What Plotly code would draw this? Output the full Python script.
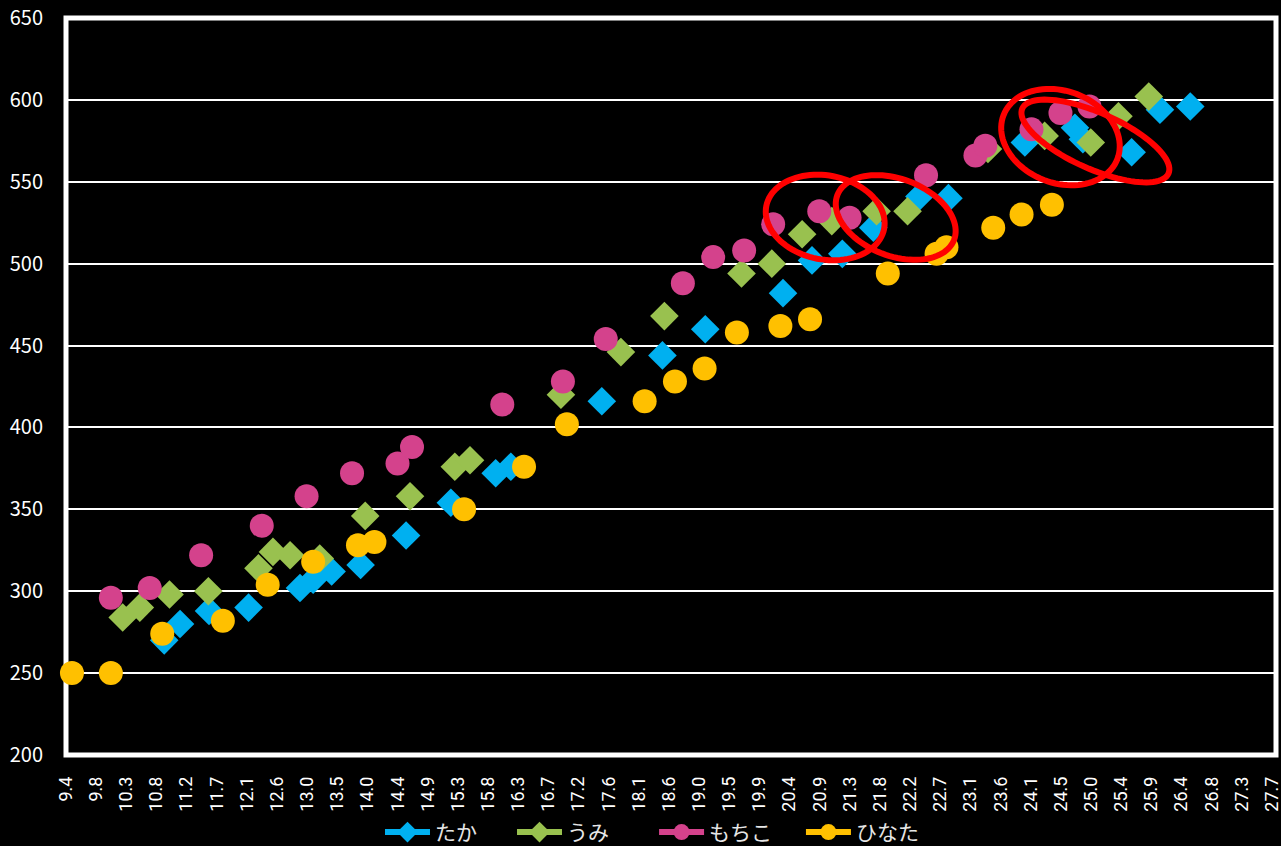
import numpy as np
import plotly.graph_objects as go

# --- series data -----------------------------------------------------------
taka_x = [10.89, 11.13, 11.57, 12.17, 12.95, 13.15, 13.43, 13.87, 14.56, 15.24,
          15.92, 16.15, 17.53, 18.45, 19.10, 20.28, 20.72, 21.18, 21.65, 22.35,
          22.79, 23.95, 24.71, 24.83, 25.57, 26.00, 26.46]
taka_y = [270, 280, 288, 290, 302, 307, 312, 316, 334, 354,
          372, 376, 416, 444, 460, 482, 502, 506, 522, 541,
          540, 574, 583, 576, 568, 594, 596]

umi_x = [10.26, 10.52, 10.97, 11.56, 12.32, 12.54, 12.80, 13.25, 13.94, 14.62,
         15.30, 15.53, 16.91, 17.82, 18.48, 19.65, 20.11, 20.57, 21.02, 21.70,
         22.17, 23.39, 24.25, 24.95, 25.37, 25.83]
umi_y = [284, 290, 298, 300, 314, 324, 322, 320, 346, 358,
         376, 380, 420, 446, 468, 494, 500, 518, 526, 532,
         532, 570, 578, 574, 590, 602]

mochiko_x = [10.08, 10.67, 11.45, 12.37, 13.05, 13.74, 14.43, 14.65, 16.02, 16.94,
             17.59, 18.76, 19.22, 19.69, 20.13, 20.83, 21.29, 22.45, 23.20, 23.35,
             24.05, 24.49, 24.93]
mochiko_y = [296, 302, 322, 340, 358, 372, 378, 388, 414, 428,
             454, 488, 504, 508, 524, 532, 528, 554, 566, 572,
             582, 592, 596]

hinata_x = [9.49, 10.08, 10.86, 11.78, 12.46, 13.15, 13.83, 14.08, 15.44, 16.35,
            17.00, 18.18, 18.64, 19.09, 19.58, 20.24, 20.69, 21.87, 22.61, 22.76,
            23.47, 23.90, 24.36]
hinata_y = [250, 250, 274, 282, 304, 318, 328, 330, 350, 376,
            402, 416, 428, 436, 458, 462, 466, 494, 506, 510,
            522, 530, 536]

x_tick_labels = ["9.4", "9.8", "10.3", "10.8", "11.2", "11.7", "12.1", "12.6", "13.0",
                 "13.5", "14.0", "14.4", "14.9", "15.3", "15.8", "16.3", "16.7", "17.2",
                 "17.6", "18.1", "18.6", "19.0", "19.5", "19.9", "20.4", "20.9", "21.3",
                 "21.8", "22.2", "22.7", "23.1", "23.6", "24.1", "24.5", "25.0", "25.4",
                 "25.9", "26.4", "26.8", "27.3", "27.7"]

# --- layout constants --------------------------------------------------------
W, H = 1281, 846
M_L, M_R, M_T, M_B = 66, 5, 18, 91
X_FIRST, X_LAST = 9.4, 27.7          # first / last labelled tick
Y_MIN, Y_MAX = 200, 650
FONT = "Noto Sans CJK JP"
TICK_FONT = "Roboto"

plot_w = W - M_L - M_R
plot_h = H - M_T - M_B
# last tick sits a few pixels inside the right edge of the frame
px_per_x = (plot_w - 4) / (X_LAST - X_FIRST)
px_per_y = plot_h / (Y_MAX - Y_MIN)
X_MIN = X_FIRST
X_MAX = X_FIRST + plot_w / px_per_x

series = [
    ("たか", taka_x, taka_y, "#00B0F0", "diamond", 22),
    ("うみ", umi_x, umi_y, "#99C14F", "diamond", 22),
    ("もちこ", mochiko_x, mochiko_y, "#D4428C", "circle", 24),
    ("ひなた", hinata_x, hinata_y, "#FFC000", "circle", 24),
]

# left edge (in paper units) of each legend entry along the bottom
legend_slots = [0.2595, 0.3686, 0.486, 0.6074]
legend_ids = ["legend", "legend2", "legend3", "legend4"]

fig = go.Figure()
for name, xs, ys, color, symbol, size in series:
    fig.add_trace(go.Scatter(
        x=xs, y=ys, mode="markers", name=name, showlegend=False,
        cliponaxis=False,
        marker=dict(symbol=symbol, size=size, color=color, line=dict(width=0)),
    ))

# legend entries drawn as line + marker samples
for (name, xs, ys, color, symbol, size), lid in zip(series, legend_ids):
    fig.add_trace(go.Scatter(
        x=[None], y=[None], mode="lines+markers", name=name, legend=lid,
        line=dict(color=color, width=6),
        marker=dict(symbol=symbol, size=size, color=color),
    ))


def ellipse_path(cx, cy, a_px, b_px, angle_deg, n=96):
    """Rotated ellipse (sizes in screen pixels) expressed in data coordinates."""
    th = np.radians(angle_deg)
    t = np.linspace(0, 2 * np.pi, n, endpoint=False)
    dx = a_px * np.cos(t) * np.cos(th) - b_px * np.sin(t) * np.sin(th)
    dy = a_px * np.cos(t) * np.sin(th) + b_px * np.sin(t) * np.cos(th)
    xs = cx + dx / px_per_x
    ys = cy - dy / px_per_y
    pts = [f"{x:.4f},{y:.4f}" for x, y in zip(xs, ys)]
    return "M " + " L ".join(pts) + " Z"


highlight_rings = [
    (20.92, 528.2, 60, 42, 11),
    (21.99, 528.2, 62.5, 38.5, 21),
    (24.49, 577.3, 61, 46, 21),
    (25.02, 574.9, 80, 28, 24),
]

shapes = [
    # white frame around the plotting area
    dict(type="rect", xref="paper", yref="paper", x0=0, y0=0, x1=1, y1=1,
         line=dict(color="white", width=5), layer="below"),
]
for cx, cy, a, b, ang in highlight_rings:
    shapes.append(dict(type="path", xref="x", yref="y",
                       path=ellipse_path(cx, cy, a, b, ang),
                       line=dict(color="#FF0000", width=6), layer="above"))

tick_positions = [round(v, 6) for v in np.linspace(X_FIRST, X_LAST, len(x_tick_labels))]

legend_style = dict(orientation="h", xanchor="left", y=-0.105, yanchor="middle",
                    font=dict(family=FONT, size=21, color="#E6E6E6"),
                    bgcolor="rgba(0,0,0,0)", itemwidth=45, tracegroupgap=0)
legends = {lid: dict(x=xpos, **legend_style) for lid, xpos in zip(legend_ids, legend_slots)}

fig.update_layout(
    width=W, height=H,
    margin=dict(l=M_L, r=M_R, t=M_T, b=M_B, pad=0, autoexpand=False),
    paper_bgcolor="black", plot_bgcolor="black",
    font=dict(family=FONT, color="white", size=20),
    shapes=shapes,
    showlegend=True,
    **legends,
    xaxis=dict(
        range=[X_MIN - 0.0005, X_MAX], tickmode="array",
        tickvals=tick_positions, ticktext=x_tick_labels, tickangle=-90,
        showgrid=False, zeroline=False, showline=False, automargin=False,
        ticks="", ticklabelstandoff=17, ticklabeloverflow="allow",
        tickfont=dict(family=TICK_FONT, size=18, color="white"),
    ),
    yaxis=dict(
        range=[Y_MIN, Y_MAX], tickmode="linear", tick0=200, dtick=50,
        showgrid=True, gridcolor="white", gridwidth=2, automargin=False,
        zeroline=False, showline=False, ticks="", ticklabelstandoff=22,
        ticklabeloverflow="allow",
        tickfont=dict(family=FONT, size=20, color="white"),
    ),
)

fig.write_html("out.html")
